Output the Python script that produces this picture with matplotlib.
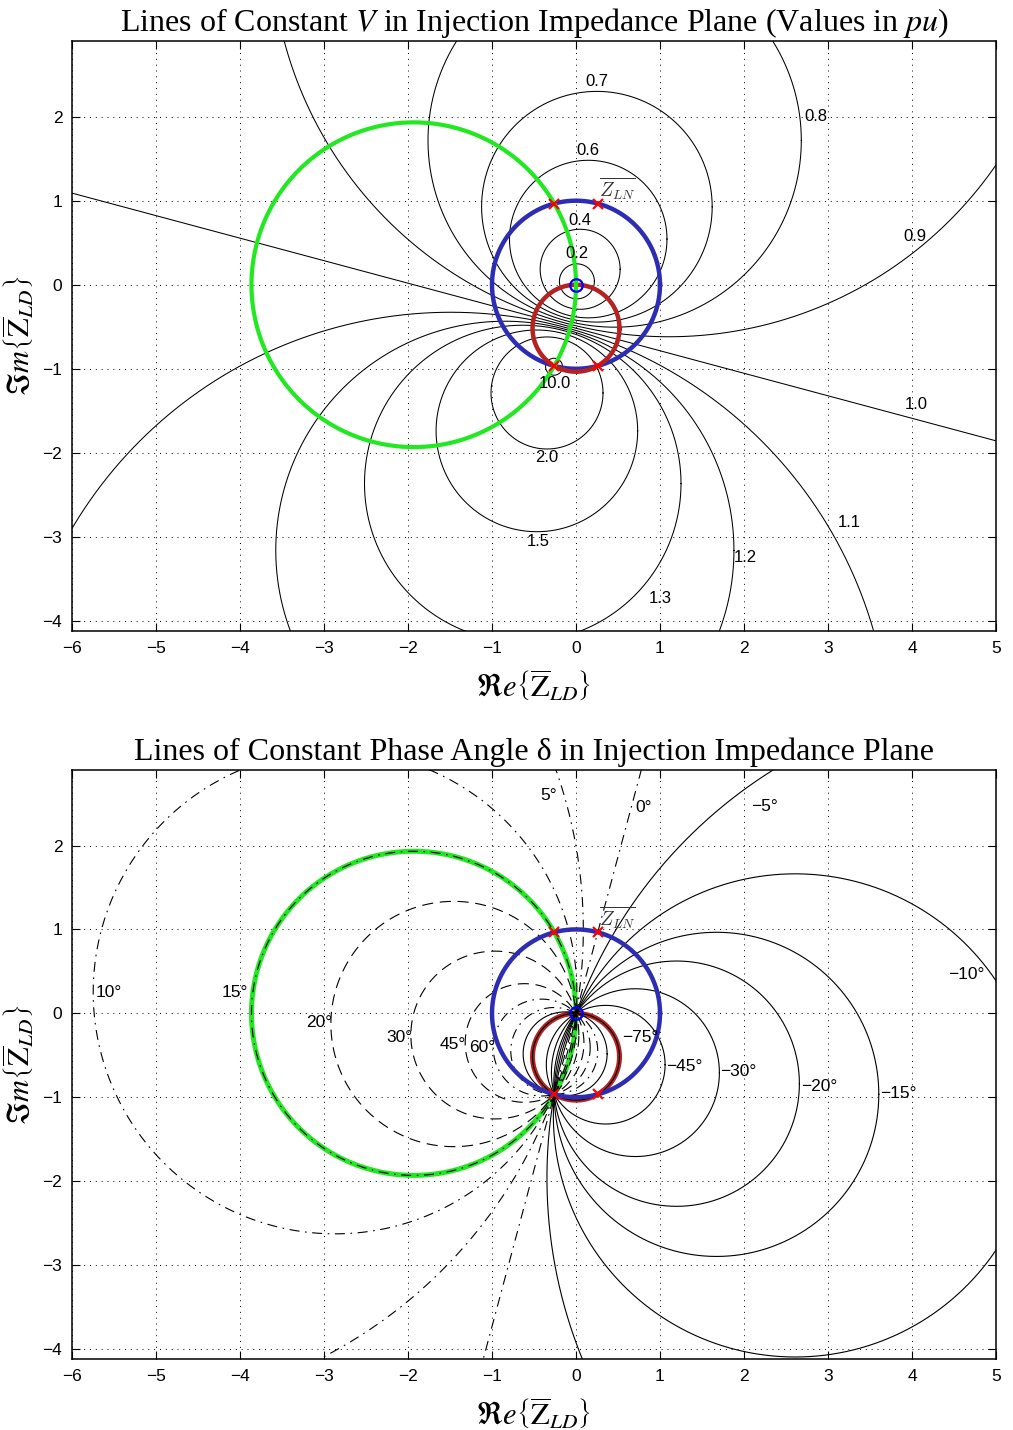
import numpy as np
import matplotlib.pyplot as plt

plt.rcParams['mathtext.fontset'] = 'stix'
plt.rcParams['font.family'] = ['Liberation Sans', 'DejaVu Sans']

# line impedance in pu (|Z_LN| = 1, angle 75 deg), source voltage = 1 pu
z_ln = 0.2588 + 0.9659j

# constant voltage levels (pu) and their labels
v_levels = [0.2, 0.4, 0.6, 0.7, 0.8, 0.9, 1.0, 1.1, 1.2, 1.3, 1.5, 2.0, 10.0]
v_texts = ['0.2', '0.4', '0.6', '0.7', '0.8', '0.9', '1.0', '1.1', '1.2', '1.3', '1.5', '2.0', '10.0']

# constant phase angle levels (deg)
d_levels = [-90, -75, -45, -30, -20, -15, -10, -5, 0, 5, 10, 15, 20, 30, 45, 60, 75]
d_labelled = [10, 15, 20, 30, 45, 60, 5, 0, -5, -10, -15, -20, -30, -45, -75]

# highlighted circles
green_delta = 15
red_delta = -75

# label placement (data coords, text centre)
v_label_pos = [(0.01, 0.37), (0.05, 0.77), (0.14, 1.60), (0.25, 2.42), (2.85, 2.00),
               (4.04, 0.57), (4.05, -1.43), (3.25, -2.83), (2.02, -3.24), (1.0, -3.73),
               (-0.45, -3.05), (-0.35, -2.06), (-0.25, -1.18)]
d_label_pos = [(-5.56, 0.25), (-4.06, 0.25), (-3.06, -0.11), (-2.10, -0.29), (-1.47, -0.37),
               (-1.12, -0.41), (-0.33, 2.60), (0.80, 2.45), (2.25, 2.46), (4.65, 0.46),
               (3.84, -0.96), (2.89, -0.87), (1.93, -0.69), (1.29, -0.63), (0.76, -0.29)]

P = -z_ln
th = np.linspace(0, 2 * np.pi, 1441)
XL, YL = (-6, 5), (-4.12, 2.9)

GREEN = '#22e822'
BLUE = '#2d2db4'
RED = '#b42222'


def v_curve(v):
    if abs(v - 1) < 1e-9:
        t = np.linspace(-20, 20, 3)
        z = P / 2 + t * 1j * P / abs(P)
    else:
        c = -v ** 2 * P / (1 - v ** 2)
        r = v * abs(P) / abs(1 - v ** 2)
        z = c + r * np.exp(1j * th)
    return z.real, z.imag


def d_curve(d):
    if d == 0:
        t = np.linspace(-20, 20, 3)
        z = t * P
    else:
        dr = np.radians(d)
        c = P / 2 - 0.5 / np.tan(dr) * 1j * P
        r = abs(P) / (2 * abs(np.sin(dr)))
        z = c + r * np.exp(1j * th)
    return z.real, z.imag


def d_style(d):
    if d < 0 or d == 90 or d == -90:
        return '-'
    if d in (20, 30, 45):
        return (0, (10, 6))
    return (0, (9, 5, 1.5, 5))


def decorate(ax, title):
    ax.set_xlim(*XL)
    ax.set_ylim(*YL)
    ax.set_xticks(range(-6, 6))
    ax.set_yticks(range(-4, 3))
    ax.grid(True, color='k', linestyle=(0, (1, 5)), linewidth=0.7)
    ax.tick_params(direction='in', top=True, right=True, length=6, width=0.8,
                   labelsize=12.5, pad=7)
    for s in ax.spines.values():
        s.set_linewidth(1.1)
    ax.set_title(title, fontsize=23, family='Liberation Serif', pad=7)
    ax.set_xlabel(r'$\Re e\left\{\overline{\mathrm{Z}}_{LD}\right\}$', fontsize=22, labelpad=9)
    ax.set_ylabel(r'$\Im m\left\{\overline{\mathrm{Z}}_{LD}\right\}$', fontsize=22, labelpad=4)


def markers(ax):
    pts = [P.real, -P.real, P.real, -P.real], [-P.imag, -P.imag, P.imag, P.imag]
    ax.plot(pts[0], pts[1], 'x', color='red', ms=7, mew=1.6, zorder=6)
    ax.plot([0], [0], 'o', mfc='none', mec='#0000ff', ms=9, mew=1.6, zorder=7)
    ax.text(-P.real + 0.02, -P.imag + 0.02, r'$\overline{Z_{LN}}$', math_fontfamily='cm',
            fontsize=14, color='#333333', ha='left', va='bottom', zorder=7)


fig = plt.figure(figsize=(10.13, 14.30), dpi=100)
ax1 = fig.add_axes([72 / 1013, 1 - 631 / 1430, 924 / 1013, 590 / 1430])
ax2 = fig.add_axes([72 / 1013, 1 - 1359 / 1430, 924 / 1013, 589 / 1430])

# ---- top: constant V
for v in v_levels:
    x, y = v_curve(v)
    ax1.plot(x, y, color='k', lw=0.75, zorder=2)
for txt, (lx, ly) in zip(v_texts, v_label_pos):
    ax1.text(lx, ly, txt, fontsize=12, ha='center', va='center', zorder=8)

ax1.plot(np.cos(th) * abs(z_ln), np.sin(th) * abs(z_ln), color=BLUE, lw=3.2, zorder=3)
x, y = d_curve(red_delta)
ax1.plot(x, y, color=RED, lw=3.2, zorder=4)
x, y = d_curve(green_delta)
ax1.plot(x, y, color=GREEN, lw=3.0, zorder=5)
markers(ax1)
decorate(ax1, r'Lines of Constant $V$ in Injection Impedance Plane (Values in $pu$)')

# ---- bottom: constant phase angle
x, y = d_curve(green_delta)
ax2.plot(x, y, color=GREEN, lw=3.6, zorder=2)
x, y = d_curve(red_delta)
ax2.plot(x, y, color=RED, lw=3.6, zorder=2)
for d in d_levels:
    x, y = d_curve(d)
    ax2.plot(x, y, color='k', lw=0.8, linestyle=d_style(d), zorder=3)
ax2.plot(np.cos(th) * abs(z_ln), np.sin(th) * abs(z_ln), color=BLUE, lw=3.2, zorder=4)
for d, (lx, ly) in zip(d_labelled, d_label_pos):
    txt = ('\u2212%d\u00b0' % -d) if d < 0 else '%d\u00b0' % d
    ax2.text(lx, ly, txt, fontsize=12.5, ha='center', va='center', zorder=8)
markers(ax2)
decorate(ax2, 'Lines of Constant Phase Angle \u03b4 in Injection Impedance Plane')

fig.savefig('out.png', dpi=100)
